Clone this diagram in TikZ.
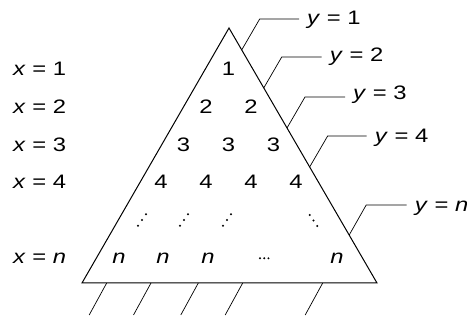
\documentclass[tikz,border=0pt]{standalone}
\usepackage{fontspec}
\setmainfont[FakeStretch=1.22]{Liberation Sans}
\usetikzlibrary{positioning, calc}

\begin{document}
\begin{tikzpicture}[
			x=1pt, y=-1pt,
			entry/.style={anchor=base, inner sep=0pt, font=\fontsize{19.5}{24}\selectfont},
			rowlabel/.style={anchor=base west, inner sep=0pt, font=\fontsize{19.5}{24}\selectfont},
			collabel/.style={anchor=base west, inner xsep=8pt, inner ysep=0pt, font=\fontsize{19.5}{24}\selectfont},
			dot/.style={fill=black},
			border/.style={line width=1pt, line join=miter},
			leader/.style={line width=0.7pt},
			hatch/.style={line width=0.7pt}
			]
			\useasboundingbox (0,0) rectangle (467,320);
			
			% Triangle
			\coordinate (apex) at (229,28);
			\coordinate (bl) at (82,283);
			\coordinate (br) at (377,283);
			\draw[border] (apex) -- (br) -- (bl) -- cycle;
			
			% Ground hatching
			\foreach \hx [count=\i] in {106.7,151,198.3,242.7,322.7} {
				\coordinate (h\i) at (\hx,283);
				\draw[hatch] (h\i) -- ++(-17.5,32);
			}
			
			% Entries
			\node[entry] (r1a) at (228.5,76) {1};
			
			\node[entry] (r2a) at (206,113.6) {2};
			\node[entry] (r2b) at (251,113.6) {2};
			
			\node[entry] (r3a) at (183.5,151.2) {3};
			\node[entry] (r3b) at (228.5,151.2) {3};
			\node[entry] (r3c) at (273.5,151.2) {3};
			
			\node[entry] (r4a) at (161,188.8) {4};
			\node[entry] (r4b) at (206,188.8) {4};
			\node[entry] (r4c) at (251,188.8) {4};
			\node[entry] (r4d) at (296,188.8) {4};
			
			\node[entry] (rna) at (119,264) {\textit{n}};
			\node[entry] (rnb) at (163,264) {\textit{n}};
			\node[entry] (rnc) at (208,264) {\textit{n}};
			\node[entry] (rne) at (337,264) {\textit{n}};
			
			% Dots
			\coordinate (d1) at (142,220);
			\coordinate (d2) at (184,220);
			\coordinate (d3) at (227,220);
			\coordinate (d4) at (313.5,220.5);
			\coordinate (d5) at (264.2,258.3);
			\foreach \c in {d1,d2,d3}
				\foreach \k in {-1,0,1}
					\fill[dot] ($(\c)+(4*\k,-5.7*\k)$) circle (1.1);
			\foreach \k in {-1,0,1} {
				\fill[dot] ($(d4)+(3.7*\k,5.5*\k)$) circle (1.1);
				\fill[dot] ($(d5)+(4.2*\k,0)$) circle (1.1);
			}
			
			% Row labels
			\node[rowlabel] (x1) at (13,76) {\textit{x} = 1};
			\node[rowlabel] (x2) at (13,113.6) {\textit{x} = 2};
			\node[rowlabel] (x3) at (13,151.2) {\textit{x} = 3};
			\node[rowlabel] (x4) at (13,188.8) {\textit{x} = 4};
			\node[rowlabel] (xn) at (13,264) {\textit{x} = \textit{n}};
			
			% Diagonal labels
			\node[collabel] (y1) at (299,25) {\textit{y} = 1};
			\node[collabel] (y2) at (321.7,61.7) {\textit{y} = 2};
			\node[collabel] (y3) at (345,100) {\textit{y} = 3};
			\node[collabel] (y4) at (366.7,143) {\textit{y} = 4};
			\node[collabel] (yn) at (406.7,212) {\textit{y} = \textit{n}};
			
			% Leaders
			\coordinate (e1) at ($(apex)!0.086!(br)$);
			\coordinate (e2) at ($(apex)!0.235!(br)$);
			\coordinate (e3) at ($(apex)!0.392!(br)$);
			\coordinate (e4) at ($(apex)!0.545!(br)$);
			\coordinate (en) at ($(apex)!0.812!(br)$);
			\draw[leader] (e1) -- ++(18,-31) coordinate (k1) -- (k1 -| y1.west);
			\draw[leader] (e2) -- ++(18,-31) coordinate (k2) -- (k2 -| y2.west);
			\draw[leader] (e3) -- ++(18,-31) coordinate (k3) -- (k3 -| y3.west);
			\draw[leader] (e4) -- ++(18,-31) coordinate (k4) -- (k4 -| y4.west);
			\draw[leader] (en) -- ++(17,-30) coordinate (kn) -- (kn -| yn.west);
			
		\end{tikzpicture}
\end{document}
